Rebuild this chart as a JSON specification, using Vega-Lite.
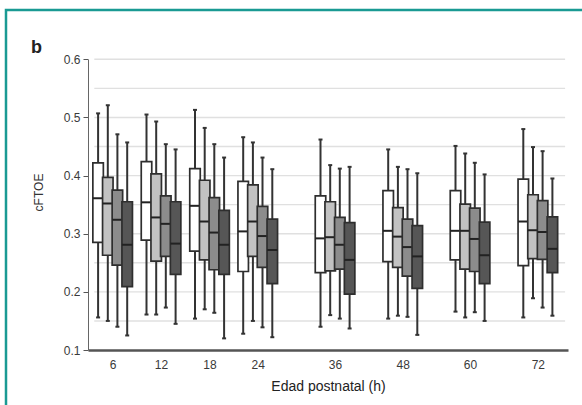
{
  "$schema": "https://vega.github.io/schema/vega-lite/v6.json",
  "width": 600,
  "height": 410,
  "autosize": "none",
  "padding": {"left": 6, "top": 10, "right": 0, "bottom": 0},
  "background": "white",
  "view": {"stroke": "#1a9a93", "strokeWidth": 2.5},
  "title": {"text": "b", "anchor": "start", "frame": "group", "orient": "top", "offset": 0, "dx": 25, "dy": 61, "baseline": "alphabetic", "font": "Liberation Sans", "fontSize": 18, "fontWeight": "bold", "color": "#222"},
  "config": {
    "font": "Liberation Sans",
    "axis": {"grid": false, "labelFont": "Liberation Sans", "titleFont": "Liberation Sans"},
    "axisY": {"domainColor": "#666", "domainWidth": 1, "tickColor": "#555", "tickSize": 5, "tickWidth": 1, "labelFontSize": 12, "labelColor": "#3a3a3a", "labelPadding": 3, "titleFontSize": 12, "titleFontWeight": "normal", "titleColor": "#333", "titlePadding": 18},
    "axisX": {"domainColor": "#555", "domainWidth": 2.5, "ticks": false, "labelFontSize": 12, "labelColor": "#3a3a3a", "labelPadding": 9, "titleFontSize": 14, "titleFontWeight": "normal", "titleColor": "#222", "titlePadding": 9}
  },
  "datasets": {
    "boxes": [
      {"hour": 6, "g": 1, "lo": 0.156, "q1": 0.285, "med": 0.361, "q3": 0.422, "hi": 0.507},
      {"hour": 6, "g": 2, "lo": 0.150, "q1": 0.263, "med": 0.352, "q3": 0.397, "hi": 0.521},
      {"hour": 6, "g": 3, "lo": 0.140, "q1": 0.246, "med": 0.324, "q3": 0.375, "hi": 0.471},
      {"hour": 6, "g": 4, "lo": 0.125, "q1": 0.209, "med": 0.281, "q3": 0.355, "hi": 0.457},
      {"hour": 12, "g": 1, "lo": 0.161, "q1": 0.289, "med": 0.354, "q3": 0.424, "hi": 0.505},
      {"hour": 12, "g": 2, "lo": 0.161, "q1": 0.253, "med": 0.328, "q3": 0.403, "hi": 0.493},
      {"hour": 12, "g": 3, "lo": 0.173, "q1": 0.261, "med": 0.317, "q3": 0.365, "hi": 0.454},
      {"hour": 12, "g": 4, "lo": 0.145, "q1": 0.230, "med": 0.283, "q3": 0.355, "hi": 0.445},
      {"hour": 18, "g": 1, "lo": 0.154, "q1": 0.270, "med": 0.348, "q3": 0.412, "hi": 0.513},
      {"hour": 18, "g": 2, "lo": 0.170, "q1": 0.255, "med": 0.321, "q3": 0.392, "hi": 0.482},
      {"hour": 18, "g": 3, "lo": 0.164, "q1": 0.238, "med": 0.302, "q3": 0.362, "hi": 0.454},
      {"hour": 18, "g": 4, "lo": 0.120, "q1": 0.230, "med": 0.281, "q3": 0.340, "hi": 0.431},
      {"hour": 24, "g": 1, "lo": 0.128, "q1": 0.235, "med": 0.304, "q3": 0.390, "hi": 0.466},
      {"hour": 24, "g": 2, "lo": 0.150, "q1": 0.261, "med": 0.321, "q3": 0.384, "hi": 0.457},
      {"hour": 24, "g": 3, "lo": 0.139, "q1": 0.242, "med": 0.296, "q3": 0.347, "hi": 0.431},
      {"hour": 24, "g": 4, "lo": 0.122, "q1": 0.214, "med": 0.272, "q3": 0.325, "hi": 0.411},
      {"hour": 36, "g": 1, "lo": 0.140, "q1": 0.233, "med": 0.292, "q3": 0.365, "hi": 0.462},
      {"hour": 36, "g": 2, "lo": 0.160, "q1": 0.236, "med": 0.294, "q3": 0.355, "hi": 0.418},
      {"hour": 36, "g": 3, "lo": 0.154, "q1": 0.239, "med": 0.281, "q3": 0.328, "hi": 0.412},
      {"hour": 36, "g": 4, "lo": 0.137, "q1": 0.196, "med": 0.255, "q3": 0.319, "hi": 0.415},
      {"hour": 48, "g": 1, "lo": 0.154, "q1": 0.252, "med": 0.305, "q3": 0.374, "hi": 0.445},
      {"hour": 48, "g": 2, "lo": 0.159, "q1": 0.242, "med": 0.295, "q3": 0.345, "hi": 0.415},
      {"hour": 48, "g": 3, "lo": 0.157, "q1": 0.227, "med": 0.277, "q3": 0.325, "hi": 0.411},
      {"hour": 48, "g": 4, "lo": 0.126, "q1": 0.206, "med": 0.261, "q3": 0.314, "hi": 0.404},
      {"hour": 60, "g": 1, "lo": 0.166, "q1": 0.255, "med": 0.305, "q3": 0.374, "hi": 0.451},
      {"hour": 60, "g": 2, "lo": 0.156, "q1": 0.239, "med": 0.305, "q3": 0.351, "hi": 0.438},
      {"hour": 60, "g": 3, "lo": 0.165, "q1": 0.235, "med": 0.291, "q3": 0.344, "hi": 0.422},
      {"hour": 60, "g": 4, "lo": 0.150, "q1": 0.214, "med": 0.263, "q3": 0.320, "hi": 0.402},
      {"hour": 72, "g": 1, "lo": 0.156, "q1": 0.245, "med": 0.321, "q3": 0.394, "hi": 0.480},
      {"hour": 72, "g": 2, "lo": 0.189, "q1": 0.257, "med": 0.306, "q3": 0.367, "hi": 0.449},
      {"hour": 72, "g": 3, "lo": 0.173, "q1": 0.256, "med": 0.303, "q3": 0.357, "hi": 0.442},
      {"hour": 72, "g": 4, "lo": 0.159, "q1": 0.233, "med": 0.274, "q3": 0.329, "hi": 0.395}
    ]
  },
  "layer": [
    {
      "data": {"values": [{"gv": 0.15}, {"gv": 0.2}, {"gv": 0.25}, {"gv": 0.3}, {"gv": 0.35}, {"gv": 0.4}, {"gv": 0.45}, {"gv": 0.5}, {"gv": 0.55}, {"gv": 0.6}]},
      "mark": {"type": "rule", "stroke": "#e0e0e0", "strokeWidth": 1.4},
      "encoding": {
        "x": {"datum": 0.9, "type": "quantitative",
          "scale": {"domain": [0, 6, 12, 18, 24, 36, 48, 60, 72, 80], "range": [82, 106.6, 155, 203.5, 251.7, 329, 396.7, 464, 531.8, 562], "nice": false, "zero": false},
          "axis": {"orient": "bottom", "offset": -70, "values": [6, 12, 18, 24, 36, 48, 60, 72], "title": "Edad postnatal (h)"}},
        "x2": {"datum": 80},
        "y": {"field": "gv", "type": "quantitative",
          "scale": {"domain": [0.1, 0.6], "range": [340, 49.3], "nice": false, "zero": false},
          "axis": {"orient": "left", "offset": -82, "values": [0.1, 0.2, 0.3, 0.4, 0.5, 0.6], "format": ".1f", "title": "cFTOE", "titleY": 182}}
      }
    },
    {
      "data": {"name": "boxes"},
      "transform": [{"filter": "datum.g == 1"}],
      "encoding": {"x": {"field": "hour", "type": "quantitative"}},
      "layer": [
        {"mark": {"type": "rule", "xOffset": -14.5, "color": "#333", "strokeWidth": 2}, "encoding": {"y": {"field": "lo", "type": "quantitative"}, "y2": {"field": "hi"}}},
        {"transform": [{"fold": ["lo", "hi"], "as": ["k", "v"]}], "mark": {"type": "tick", "orient": "horizontal", "xOffset": -14.5, "size": 4, "thickness": 2, "color": "#333", "opacity": 1}, "encoding": {"y": {"field": "v", "type": "quantitative"}}},
        {"mark": {"type": "bar", "xOffset": -14.5, "width": 10.5, "fill": "#ffffff", "stroke": "#2e2e2e", "strokeWidth": 1.7}, "encoding": {"y": {"field": "q1", "type": "quantitative"}, "y2": {"field": "q3"}}},
        {"mark": {"type": "tick", "orient": "horizontal", "xOffset": -14.5, "size": 10.5, "thickness": 2, "color": "#222", "opacity": 1}, "encoding": {"y": {"field": "med", "type": "quantitative"}}}
      ]
    },
    {
      "data": {"name": "boxes"},
      "transform": [{"filter": "datum.g == 2"}],
      "encoding": {"x": {"field": "hour", "type": "quantitative"}},
      "layer": [
        {"mark": {"type": "rule", "xOffset": -4.8, "color": "#333", "strokeWidth": 2}, "encoding": {"y": {"field": "lo", "type": "quantitative"}, "y2": {"field": "hi"}}},
        {"transform": [{"fold": ["lo", "hi"], "as": ["k", "v"]}], "mark": {"type": "tick", "orient": "horizontal", "xOffset": -4.8, "size": 4, "thickness": 2, "color": "#333", "opacity": 1}, "encoding": {"y": {"field": "v", "type": "quantitative"}}},
        {"mark": {"type": "bar", "xOffset": -4.8, "width": 10.5, "fill": "#c2c2c2", "stroke": "#2e2e2e", "strokeWidth": 1.7}, "encoding": {"y": {"field": "q1", "type": "quantitative"}, "y2": {"field": "q3"}}},
        {"mark": {"type": "tick", "orient": "horizontal", "xOffset": -4.8, "size": 10.5, "thickness": 2, "color": "#222", "opacity": 1}, "encoding": {"y": {"field": "med", "type": "quantitative"}}}
      ]
    },
    {
      "data": {"name": "boxes"},
      "transform": [{"filter": "datum.g == 3"}],
      "encoding": {"x": {"field": "hour", "type": "quantitative"}},
      "layer": [
        {"mark": {"type": "rule", "xOffset": 4.8, "color": "#333", "strokeWidth": 2}, "encoding": {"y": {"field": "lo", "type": "quantitative"}, "y2": {"field": "hi"}}},
        {"transform": [{"fold": ["lo", "hi"], "as": ["k", "v"]}], "mark": {"type": "tick", "orient": "horizontal", "xOffset": 4.8, "size": 4, "thickness": 2, "color": "#333", "opacity": 1}, "encoding": {"y": {"field": "v", "type": "quantitative"}}},
        {"mark": {"type": "bar", "xOffset": 4.8, "width": 10.5, "fill": "#8c8c8c", "stroke": "#2e2e2e", "strokeWidth": 1.7}, "encoding": {"y": {"field": "q1", "type": "quantitative"}, "y2": {"field": "q3"}}},
        {"mark": {"type": "tick", "orient": "horizontal", "xOffset": 4.8, "size": 10.5, "thickness": 2, "color": "#222", "opacity": 1}, "encoding": {"y": {"field": "med", "type": "quantitative"}}}
      ]
    },
    {
      "data": {"name": "boxes"},
      "transform": [{"filter": "datum.g == 4"}],
      "encoding": {"x": {"field": "hour", "type": "quantitative"}},
      "layer": [
        {"mark": {"type": "rule", "xOffset": 14.6, "color": "#333", "strokeWidth": 2}, "encoding": {"y": {"field": "lo", "type": "quantitative"}, "y2": {"field": "hi"}}},
        {"transform": [{"fold": ["lo", "hi"], "as": ["k", "v"]}], "mark": {"type": "tick", "orient": "horizontal", "xOffset": 14.6, "size": 4, "thickness": 2, "color": "#333", "opacity": 1}, "encoding": {"y": {"field": "v", "type": "quantitative"}}},
        {"mark": {"type": "bar", "xOffset": 14.6, "width": 10.5, "fill": "#565656", "stroke": "#2e2e2e", "strokeWidth": 1.7}, "encoding": {"y": {"field": "q1", "type": "quantitative"}, "y2": {"field": "q3"}}},
        {"mark": {"type": "tick", "orient": "horizontal", "xOffset": 14.6, "size": 10.5, "thickness": 2, "color": "#222", "opacity": 1}, "encoding": {"y": {"field": "med", "type": "quantitative"}}}
      ]
    }
  ]
}
